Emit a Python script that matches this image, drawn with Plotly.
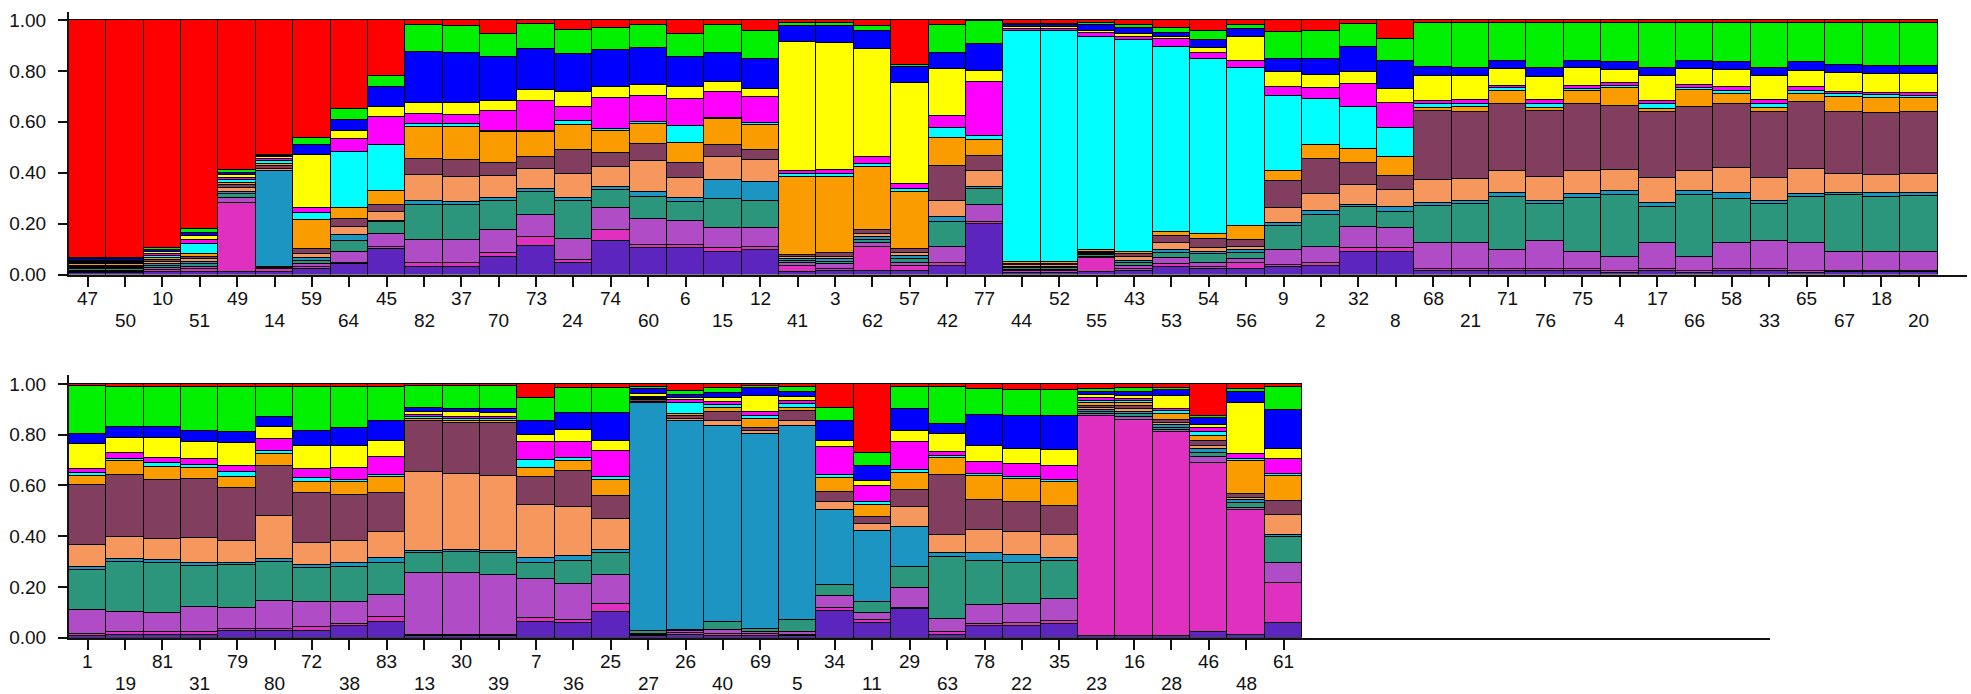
import plotly.graph_objects as go

# ---------------- labels ----------------
top_labels = ["47", "50", "10", "51", "49", "14", "59", "64", "45", "82",
              "37", "70", "73", "24", "74", "60", "6", "15", "12", "41",
              "3", "62", "57", "42", "77", "44", "52", "55", "43", "53",
              "54", "56", "9", "2", "32", "8", "68", "21", "71", "76",
              "75", "4", "17", "66", "58", "33", "65", "67", "18", "20"]
bottom_labels = ["1", "19", "81", "31", "79", "80", "72", "38", "83", "13",
                 "30", "39", "7", "36", "25", "27", "26", "40", "69", "5",
                 "34", "11", "29", "63", "78", "22", "35", "23", "16", "28",
                 "46", "48", "61"]

# ---------------- cluster memberships (top row 50 values, then bottom row 33) ----------------
dark_purple = [.005, .005, .008, .01, .01, .01, .02, .04, .10, .03,
               .03, .07, .112, .044, .133, .103, .103, .087, .096, .01,
               .012, .015, .012, .035, .197, .006, .006, .01, .012, .03,
               .02, .02, .03, .035, .088, .09, .012, .012, .012, .012,
               .012, .006, .012, .006, .012, .012, .006, .008, .008, .008,
               .008, .012, .012, .012, .028, .028, .028, .045, .063, .005,
               .005, .005, .06, .058, .10, .005, .01, .008, .008, .006,
               .106, .058, .112, .012, .045, .046, .055, .005, .005, .005,
               .022, .012, .056]
pink = [.005, .005, .008, .01, .27, .01, .01, .005, .01, .015,
        .015, .015, .036, .014, .04, .013, .013, .016, .013, .025,
        .008, .095, .02, .01, .008, .006, .006, .055, .008, .01,
        .01, .025, .008, .01, .015, .013, .008, .008, .008, .008,
        .008, .006, .008, .006, .008, .008, .006, .007, .007, .007,
        .008, .01, .01, .01, .005, .005, .015, .01, .02, .005,
        .005, .005, .016, .01, .032, .005, .008, .008, .008, .006,
        .01, .01, .005, .012, .01, .012, .012, .868, .855, .805,
        .665, .49, .16]
orchid = [.005, .005, .008, .01, .02, .005, .01, .045, .05, .09,
          .09, .09, .085, .08, .087, .102, .094, .078, .072, .01,
          .02, .012, .015, .065, .07, .006, .006, .005, .015, .025,
          .015, .015, .06, .065, .085, .078, .102, .102, .078, .11,
          .07, .058, .105, .058, .105, .112, .113, .075, .075, .075,
          .094, .08, .076, .10, .085, .113, .097, .085, .085, .245,
          .245, .238, .155, .145, .115, .005, .008, .016, .008, .012,
          .05, .03, .08, .05, .075, .076, .085, .008, .008, .01,
          .025, .01, .077]
teal = [.005, .005, .008, .01, .015, .005, .015, .04, .045, .14,
        .14, .112, .092, .152, .072, .087, .073, .114, .108, .008,
        .01, .012, .012, .097, .06, .006, .006, .005, .012, .02,
        .035, .025, .092, .125, .077, .066, .147, .155, .205, .147,
        .21, .242, .14, .242, .17, .146, .178, .222, .215, .218,
        .157, .198, .198, .16, .168, .154, .133, .14, .128, .078,
        .083, .084, .065, .09, .088, .01, .004, .03, .012, .046,
        .042, .042, .083, .245, .173, .162, .152, .008, .012, .008,
        .015, .02, .102]
steel_blue = [.005, .005, .008, .01, .01, .375, .01, .025, .005, .015,
              .01, .013, .01, .012, .012, .018, .018, .078, .076, .007,
              .01, .012, .012, .018, .01, .006, .006, .005, .008, .01,
              .01, .01, .012, .015, .01, .02, .01, .01, .017, .012,
              .018, .015, .015, .015, .025, .012, .015, .01, .015, .012,
              .013, .01, .012, .012, .01, .01, .013, .015, .02, .007,
              .008, .01, .017, .02, .012, .90, .826, .772, .768, .764,
              .295, .28, .158, .013, .03, .03, .012, .008, .01, .01,
              .015, .012, .01]
salmon = [.005, .005, .008, .01, .015, .01, .015, .033, .035, .10,
          .10, .087, .08, .093, .08, .123, .08, .09, .085, .007,
          .01, .012, .015, .064, .06, .006, .006, .005, .012, .03,
          .015, .015, .06, .066, .077, .067, .092, .09, .088, .094,
          .09, .082, .10, .08, .097, .09, .098, .073, .07, .074,
          .087, .088, .082, .10, .084, .168, .086, .087, .10, .312,
          .30, .297, .21, .193, .12, .005, .008, .02, .01, .021,
          .033, .03, .078, .072, .092, .09, .09, .008, .012, .01,
          .015, .008, .077]
maroon = [.005, .005, .008, .01, .01, .01, .02, .032, .03, .065,
          .065, .05, .045, .095, .052, .066, .058, .045, .04, .008,
          .015, .015, .015, .137, .06, .006, .006, .005, .012, .025,
          .035, .025, .105, .138, .088, .053, .27, .263, .26, .258,
          .262, .255, .26, .252, .253, .26, .26, .245, .245, .243,
          .235, .243, .232, .232, .212, .197, .197, .18, .155, .203,
          .199, .207, .11, .14, .09, .005, .008, .035, .012, .04,
          .037, .027, .067, .237, .118, .118, .113, .01, .012, .01,
          .02, .016, .058]
orange = [.005, .005, .008, .01, .01, .01, .115, .04, .055, .125,
          .13, .123, .10, .097, .086, .078, .077, .102, .097, .31,
          .297, .25, .222, .11, .065, .006, .006, .005, .011, .018,
          .02, .055, .04, .056, .052, .073, .015, .02, .054, .012,
          .05, .068, .012, .065, .04, .015, .035, .058, .06, .055,
          .035, .057, .05, .042, .04, .05, .045, .05, .062, .008,
          .008, .008, .037, .042, .065, .005, .01, .015, .035, .012,
          .057, .048, .065, .066, .095, .092, .093, .01, .012, .025,
          .02, .127, .097]
cyan = [.005, .005, .008, .04, .01, .01, .025, .222, .18, .01,
        .01, .005, .005, .015, .008, .008, .066, .005, .009, .01,
        .013, .012, .012, .04, .015, .91, .91, .84, .83, .727,
        .685, .62, .295, .178, .168, .115, .012, .01, .01, .018,
        .01, .01, .018, .01, .01, .015, .012, .01, .01, .01,
        .012, .008, .015, .012, .02, .012, .015, .01, .008, .008,
        .008, .008, .03, .012, .01, .005, .045, .015, .012, .015,
        .012, .01, .015, .01, .008, .008, .008, .008, .008, .01,
        .015, .008, .01]
magenta = [.005, .005, .008, .015, .01, .01, .02, .05, .11, .04,
           .035, .078, .115, .058, .125, .105, .108, .103, .10, .01,
           .015, .025, .022, .046, .21, .007, .007, .012, .015, .03,
           .025, .03, .036, .044, .09, .097, .012, .015, .01, .015,
           .012, .012, .012, .012, .015, .015, .012, .01, .01, .012,
           .015, .022, .02, .025, .026, .045, .035, .046, .07, .008,
           .008, .008, .07, .06, .105, .005, .008, .012, .015, .012,
           .11, .062, .107, .015, .047, .05, .058, .012, .008, .01,
           .015, .02, .058]
yellow = [.005, .005, .008, .015, .01, .005, .21, .03, .04, .045,
          .05, .04, .045, .058, .043, .042, .048, .037, .032, .51,
          .50, .428, .395, .186, .045, .007, .007, .008, .01, .01,
          .02, .095, .057, .051, .045, .058, .10, .095, .065, .092,
          .068, .05, .098, .062, .07, .095, .065, .072, .072, .073,
          .098, .06, .08, .065, .09, .05, .09, .088, .065, .01,
          .02, .015, .03, .05, .04, .01, .01, .015, .065, .015,
          .022, .022, .045, .07, .063, .06, .06, .01, .012, .05,
          .01, .202, .037]
blue = [.005, .005, .008, .015, .01, .005, .04, .046, .075, .20,
        .195, .172, .16, .15, .145, .145, .117, .115, .117, .06,
        .065, .067, .065, .064, .105, .007, .007, .025, .025, .015,
        .03, .03, .052, .062, .098, .11, .035, .033, .033, .035,
        .03, .03, .033, .03, .03, .03, .035, .035, .033, .033,
        .04, .042, .045, .045, .044, .036, .06, .07, .078, .015,
        .013, .017, .055, .065, .108, .02, .012, .02, .032, .02,
        .08, .058, .085, .04, .122, .128, .134, .015, .015, .025,
        .03, .045, .155]
green = [.005, .005, .008, .015, .01, .005, .025, .042, .045, .105,
         .105, .09, .10, .092, .087, .09, .09, .11, .11, .015,
         .015, .02, .008, .108, .09, .007, .007, .008, .01, .02,
         .035, .015, .105, .11, .09, .087, .175, .177, .15, .177,
         .15, .156, .177, .152, .155, .18, .155, .165, .17, .17,
         .19, .16, .155, .175, .178, .122, .176, .164, .133, .088,
         .09, .09, .09, .10, .10, .01, .015, .02, .007, .02,
         .05, .05, .09, .148, .102, .105, .105, .012, .015, .008,
         .008, .012, .09]
red = [.935, .935, .896, .82, .59, .53, .465, .35, .22, .02,
       .025, .055, .015, .04, .03, .02, .055, .02, .045, .01,
       .01, .025, .175, .02, .005, .014, .014, .012, .02, .03,
       .045, .02, .048, .045, .017, .073, .01, .01, .01, .01,
       .01, .01, .01, .01, .01, .01, .01, .01, .01, .01,
       .008, .01, .013, .01, .01, .01, .01, .01, .013, .008,
       .008, .008, .055, .015, .015, .01, .028, .014, .008, .011,
       .096, .273, .01, .01, .02, .023, .023, .018, .016, .014,
       .125, .018, .013]

# stacking order: bottom -> top
clusters = [
    ("Cluster 14", dark_purple, "#5b25be"),
    ("Cluster 13", pink, "#e030c0"),
    ("Cluster 12", orchid, "#b04cc6"),
    ("Cluster 11", teal, "#2c967c"),
    ("Cluster 10", steel_blue, "#1c95c3"),
    ("Cluster 9", salmon, "#f6975d"),
    ("Cluster 8", maroon, "#823e5e"),
    ("Cluster 7", orange, "#fa9b00"),
    ("Cluster 6", cyan, "#00ffff"),
    ("Cluster 5", magenta, "#ff00ff"),
    ("Cluster 4", yellow, "#ffff00"),
    ("Cluster 3", blue, "#0000ff"),
    ("Cluster 2", green, "#00f000"),
    ("Cluster 1", red, "#ff0000"),
]

n_top = len(top_labels)
n_bot = len(bottom_labels)
n_all = n_top + n_bot
totals = [sum(c[1][i] for c in clusters) for i in range(n_all)]

W, H = 1971, 694
FONT = "Liberation Sans Narrow, Arial Narrow, Liberation Sans, Arial, sans-serif"
FS = 19

fig = go.Figure()
for name, vals, color in clusters:
    q = [v / t for v, t in zip(vals, totals)]
    mk = dict(color=color, line=dict(color="#000000", width=1.5))
    fig.add_trace(go.Bar(x=list(range(n_top)), y=q[:n_top], width=1,
                         xaxis="x", yaxis="y", marker=mk, name=name,
                         showlegend=False, hoverinfo="skip"))
    fig.add_trace(go.Bar(x=list(range(n_bot)), y=q[n_top:], width=1,
                         xaxis="x2", yaxis="y2", marker=mk, name=name,
                         showlegend=False, hoverinfo="skip"))

unit = 37.37
left = 69
top_right = 1967
bot_right = 1770
top_range = [-0.5, -0.5 + (top_right - left) / unit]
bot_range = [-0.5, -0.5 + (bot_right - left) / unit]

tickfont = dict(family=FONT, size=FS, color="#111111")
yt = [0, 0.2, 0.4, 0.6, 0.8, 1.0]
ytt = ["%.2f" % v for v in yt]


def xmain(dom, rng, n, anchor):
    return dict(domain=dom, range=rng, anchor=anchor, tickmode="array",
                tickvals=list(range(n)), showticklabels=False,
                ticks="outside", ticklen=10, tickwidth=1.5, tickcolor="#111111",
                showline=True, linecolor="#111111", linewidth=2,
                showgrid=False, zeroline=False, fixedrange=True)


def ymain(dom, rng, anchor):
    return dict(domain=dom, range=rng, anchor=anchor, tickmode="array",
                tickvals=yt, ticktext=ytt, ticks="outside", ticklen=9,
                tickwidth=1.5, tickcolor="#111111", showline=True,
                linecolor="#111111", linewidth=2, showgrid=False,
                zeroline=False, tickfont=tickfont, ticklabelstandoff=8,
                fixedrange=True)


top_dom_y = [1 - 274.5 / H, 1 - 12 / H]
bot_dom_y = [1 - 637.7 / H, 1 - 375 / H]

# category labels, alternating on two rows below each axis
annotations = []
for labels, xref, rows in ((top_labels, "x", (298, 320)), (bottom_labels, "x2", (661, 683.5))):
    for i, lab in enumerate(labels):
        annotations.append(dict(x=i, xref=xref, y=1 - rows[i % 2] / H, yref="paper",
                                text=lab, showarrow=False, xanchor="center",
                                yanchor="middle", font=tickfont, borderpad=0))

fig.update_layout(
    template="none",
    width=W, height=H,
    margin=dict(l=0, r=0, t=0, b=0, pad=0),
    paper_bgcolor="white", plot_bgcolor="white",
    barmode="stack", bargap=0,
    showlegend=False,
    xaxis=xmain([left / W, top_right / W], top_range, n_top, "y"),
    xaxis2=xmain([left / W, bot_right / W], bot_range, n_bot, "y2"),
    yaxis=ymain(top_dom_y, [0, (274.5 - 12) / 254.5], "x"),
    yaxis2=ymain(bot_dom_y, [0, (637.7 - 375) / 253.7], "x2"),
    annotations=annotations,
)

fig.write_html("out.html", config={"displayModeBar": False},
               post_script="document.body.style.margin='0';document.body.style.overflow='hidden';")
